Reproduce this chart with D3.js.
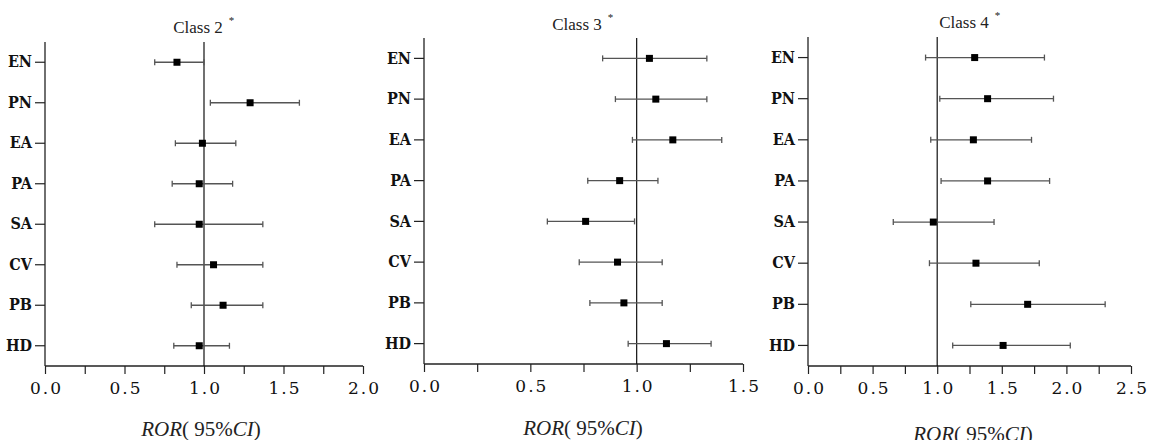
<!DOCTYPE html>
<html>
<head>
<meta charset="utf-8">
<script src="https://cdn.jsdelivr.net/npm/d3@7"></script>
<style>
  html, body { margin: 0; padding: 0; background: #fff; }
  svg { display: block; }
</style>
</head>
<body>
<svg id="chart" width="1149" height="440"></svg>
<script>
// ---------- data ----------
const categories = ["EN", "PN", "EA", "PA", "SA", "CV", "PB", "HD"];

const class2Ror   = [0.83, 1.29, 0.99, 0.97, 0.97, 1.06, 1.12, 0.97];
const class2Lower = [0.69, 1.04, 0.82, 0.80, 0.69, 0.83, 0.92, 0.81];
const class2Upper = [1.00, 1.60, 1.20, 1.18, 1.37, 1.37, 1.37, 1.16];

const class3Ror   = [1.06, 1.09, 1.17, 0.92, 0.76, 0.91, 0.94, 1.14];
const class3Lower = [0.84, 0.90, 0.98, 0.77, 0.58, 0.73, 0.78, 0.96];
const class3Upper = [1.33, 1.33, 1.40, 1.10, 0.99, 1.12, 1.12, 1.35];

const class4Ror   = [1.29, 1.39, 1.28, 1.39, 0.97, 1.30, 1.70, 1.51];
const class4Lower = [0.91, 1.02, 0.95, 1.03, 0.66, 0.94, 1.26, 1.12];
const class4Upper = [1.83, 1.90, 1.73, 1.87, 1.44, 1.79, 2.30, 2.03];

const panelTitles = ["Class 2", "Class 3", "Class 4"];
const class2TickLabels = ["0.0", "0.5", "1.0", "1.5", "2.0"];
const class3TickLabels = ["0.0", "0.5", "1.0", "1.5"];
const class4TickLabels = ["0.0", "0.5", "1.0", "1.5", "2.0", "2.5"];
const referenceValue = 1.0;

// ---------- layout ----------
const panels = [
  { title: panelTitles[0], ror: class2Ror, lo: class2Lower, hi: class2Upper, ticks: class2TickLabels,
    left: 45, right: 363, top: 42, bottom: 366, titleX: 198, titleY: 33, axX: 201, axY: 436 },
  { title: panelTitles[1], ror: class3Ror, lo: class3Lower, hi: class3Upper, ticks: class3TickLabels,
    left: 424, right: 743, top: 38, bottom: 364, titleX: 577, titleY: 30, axX: 583, axY: 435 },
  { title: panelTitles[2], ror: class4Ror, lo: class4Lower, hi: class4Upper, ticks: class4TickLabels,
    left: 808, right: 1131, top: 37, bottom: 366, titleX: 964, titleY: 28, axX: 973, axY: 441 }
];

const svg = d3.select("#chart");
const serif = "'Liberation Serif', 'Times New Roman', serif";
const tickFont = "'DejaVu Serif', serif";
const catFont = "'DejaVu Serif Condensed', 'DejaVu Serif', serif";

panels.forEach(p => {
  const g = svg.append("g");
  const tickNums = p.ticks.map(Number);
  const xMax = d3.max(tickNums);
  const x = d3.scaleLinear().domain([0, xMax]).range([p.left, p.right]);
  const y = d3.scaleBand().domain(categories).range([p.top, p.bottom]).padding(0);

  // x axis
  const minor = d3.range(0, xMax + 0.001, 0.25);
  const xAxis = d3.axisBottom(x)
    .tickValues(minor)
    .tickSize(8)
    .tickPadding(8)
    .tickFormat(v => {
      const i = tickNums.findIndex(t => Math.abs(t - v) < 1e-6);
      return i >= 0 ? p.ticks[i] : "";
    });
  const gx = g.append("g").attr("transform", `translate(0,${p.bottom})`).call(xAxis);
  gx.select(".domain").attr("stroke", "#222").attr("stroke-width", 1.3).attr("d", `M${p.left},0H${p.right}`);
  gx.selectAll(".tick line").attr("stroke", "#222").attr("stroke-width", 1.2);
  gx.selectAll(".tick text")
    .attr("font-family", tickFont)
    .attr("font-size", 17)
    .attr("letter-spacing", "2px")
    .attr("dx", "1px")
    .attr("fill", "#111");

  // y axis
  const yAxis = d3.axisLeft(y).tickSize(10).tickPadding(3);
  const gy = g.append("g").attr("transform", `translate(${p.left},0)`).call(yAxis);
  gy.select(".domain").attr("stroke", "#222").attr("stroke-width", 1.3).attr("d", `M0,${p.top}V${p.bottom}`);
  gy.selectAll(".tick line").attr("stroke", "#222").attr("stroke-width", 1.2);
  gy.selectAll(".tick text")
    .attr("font-family", catFont)
    .attr("font-weight", "bold")
    .attr("font-size", 16)
    .attr("fill", "#111");

  // reference line
  g.append("line")
    .attr("x1", x(referenceValue)).attr("x2", x(referenceValue))
    .attr("y1", p.top).attr("y2", p.bottom)
    .attr("stroke", "#111").attr("stroke-width", 1.2);

  // error bars
  const rows = categories.map((c, i) => ({ c, r: p.ror[i], lo: p.lo[i], hi: p.hi[i] }));
  const cy = d => y(d.c) + y.bandwidth() / 2;
  const eb = g.append("g").attr("stroke", "#555").attr("stroke-width", 1.3);
  eb.selectAll("line.ci").data(rows).join("line").attr("class", "ci")
    .attr("x1", d => x(d.lo)).attr("x2", d => x(d.hi))
    .attr("y1", cy).attr("y2", cy);
  eb.selectAll("line.capl").data(rows).join("line").attr("class", "capl")
    .attr("x1", d => x(d.lo)).attr("x2", d => x(d.lo))
    .attr("y1", d => cy(d) - 3).attr("y2", d => cy(d) + 3);
  eb.selectAll("line.caph").data(rows).join("line").attr("class", "caph")
    .attr("x1", d => x(d.hi)).attr("x2", d => x(d.hi))
    .attr("y1", d => cy(d) - 3).attr("y2", d => cy(d) + 3);

  // point markers
  g.selectAll("rect.pt").data(rows).join("rect").attr("class", "pt")
    .attr("x", d => x(d.r) - 3.5).attr("y", d => cy(d) - 3.5)
    .attr("width", 7).attr("height", 7)
    .attr("fill", "#000");

  // title
  const t = g.append("text")
    .attr("x", p.titleX).attr("y", p.titleY)
    .attr("text-anchor", "middle")
    .attr("font-family", serif).attr("font-size", 17).attr("fill", "#222")
    .text(p.title);
  const tw = t.node().getComputedTextLength();
  g.append("text")
    .attr("x", p.titleX + tw / 2 + 6).attr("y", p.titleY - 9)
    .attr("font-family", serif).attr("font-size", 11).attr("fill", "#222")
    .text("*");

  // axis title
  const at = g.append("text")
    .attr("x", p.axX).attr("y", p.axY)
    .attr("text-anchor", "middle")
    .attr("font-family", serif).attr("font-size", 21).attr("fill", "#222");
  at.append("tspan").attr("font-style", "italic").text("ROR");
  at.append("tspan").text("( 95%");
  at.append("tspan").attr("font-style", "italic").text("CI");
  at.append("tspan").text(")");
});
</script>
</body>
</html>
